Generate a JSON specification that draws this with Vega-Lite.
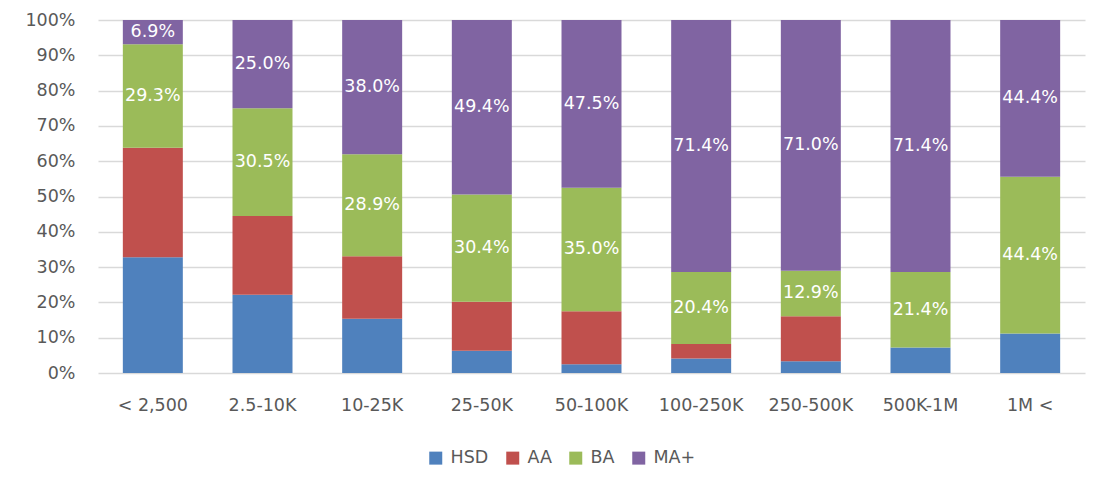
{
  "$schema": "https://vega.github.io/schema/vega-lite/v6.json",
  "width": 987,
  "height": 353,
  "autosize": {"type": "none"},
  "padding": {"left": 98, "top": 20, "right": 17, "bottom": 118},
  "background": "white",
  "config": {
    "view": {"stroke": null},
    "font": "DejaVu Sans",
    "axisY": {
      "title": null,
      "values": [0, 0.1, 0.2, 0.3, 0.4, 0.5, 0.6, 0.7, 0.8, 0.9, 1],
      "labelOverlap": false,
      "format": ".0%",
      "domain": false,
      "ticks": false,
      "labelPadding": 23,
      "labelFontSize": 17.5,
      "labelColor": "#595959",
      "gridColor": "#d9d9d9",
      "gridWidth": 1.5
    }
  },
  "data": {
    "values": [
      {"size": "< 2,500", "edu": "HSD", "level": 1, "share": 0.328},
      {"size": "< 2,500", "edu": "AA", "level": 2, "share": 0.310},
      {"size": "< 2,500", "edu": "BA", "level": 3, "share": 0.293},
      {"size": "< 2,500", "edu": "MA+", "level": 4, "share": 0.069},
      {"size": "2.5-10K", "edu": "HSD", "level": 1, "share": 0.222},
      {"size": "2.5-10K", "edu": "AA", "level": 2, "share": 0.223},
      {"size": "2.5-10K", "edu": "BA", "level": 3, "share": 0.305},
      {"size": "2.5-10K", "edu": "MA+", "level": 4, "share": 0.250},
      {"size": "10-25K", "edu": "HSD", "level": 1, "share": 0.154},
      {"size": "10-25K", "edu": "AA", "level": 2, "share": 0.177},
      {"size": "10-25K", "edu": "BA", "level": 3, "share": 0.289},
      {"size": "10-25K", "edu": "MA+", "level": 4, "share": 0.380},
      {"size": "25-50K", "edu": "HSD", "level": 1, "share": 0.063},
      {"size": "25-50K", "edu": "AA", "level": 2, "share": 0.139},
      {"size": "25-50K", "edu": "BA", "level": 3, "share": 0.304},
      {"size": "25-50K", "edu": "MA+", "level": 4, "share": 0.494},
      {"size": "50-100K", "edu": "HSD", "level": 1, "share": 0.025},
      {"size": "50-100K", "edu": "AA", "level": 2, "share": 0.150},
      {"size": "50-100K", "edu": "BA", "level": 3, "share": 0.350},
      {"size": "50-100K", "edu": "MA+", "level": 4, "share": 0.475},
      {"size": "100-250K", "edu": "HSD", "level": 1, "share": 0.041},
      {"size": "100-250K", "edu": "AA", "level": 2, "share": 0.041},
      {"size": "100-250K", "edu": "BA", "level": 3, "share": 0.204},
      {"size": "100-250K", "edu": "MA+", "level": 4, "share": 0.714},
      {"size": "250-500K", "edu": "HSD", "level": 1, "share": 0.033},
      {"size": "250-500K", "edu": "AA", "level": 2, "share": 0.128},
      {"size": "250-500K", "edu": "BA", "level": 3, "share": 0.129},
      {"size": "250-500K", "edu": "MA+", "level": 4, "share": 0.710},
      {"size": "500K-1M", "edu": "HSD", "level": 1, "share": 0.072},
      {"size": "500K-1M", "edu": "BA", "level": 3, "share": 0.214},
      {"size": "500K-1M", "edu": "MA+", "level": 4, "share": 0.714},
      {"size": "1M <", "edu": "HSD", "level": 1, "share": 0.112},
      {"size": "1M <", "edu": "BA", "level": 3, "share": 0.444},
      {"size": "1M <", "edu": "MA+", "level": 4, "share": 0.444}
    ]
  },
  "encoding": {
    "x": {
      "field": "size",
      "type": "nominal",
      "sort": ["< 2,500", "2.5-10K", "10-25K", "25-50K", "50-100K", "100-250K", "250-500K", "500K-1M", "1M <"],
      "scale": {"paddingInner": 0.453, "paddingOuter": 0.2265},
      "axis": {
        "title": null,
        "labelAngle": 0,
        "domain": false,
        "ticks": false,
        "grid": false,
        "labelPadding": 23,
        "labelFontSize": 17.5,
        "labelColor": "#595959"
      }
    },
    "color": {
      "field": "edu",
      "type": "nominal",
      "scale": {
        "domain": ["HSD", "AA", "BA", "MA+"],
        "range": ["#4f81bd", "#c0504d", "#9bbb59", "#8064a2"]
      },
      "legend": {
        "orient": "none",
        "direction": "horizontal",
        "legendX": 329,
        "legendY": 429,
        "title": null,
        "symbolType": "square",
        "symbolSize": 169,
        "symbolStrokeWidth": 0,
        "labelFontSize": 17.5,
        "labelColor": "#595959",
        "labelOffset": 6,
        "columnPadding": 15
      }
    },
    "order": {"field": "level", "type": "quantitative", "sort": "ascending"}
  },
  "layer": [
    {
      "mark": {"type": "bar"},
      "encoding": {
        "y": {
          "field": "share",
          "type": "quantitative",
          "stack": "zero",
          "scale": {"domain": [0, 1]}
        }
      }
    },
    {
      "mark": {"type": "text", "fontSize": 17.5, "baseline": "middle", "align": "center"},
      "encoding": {
        "y": {
          "field": "share",
          "type": "quantitative",
          "stack": "zero",
          "bandPosition": 0.5
        },
        "fill": {"value": "white"},
        "text": {
          "condition": {
            "test": "datum.edu === 'BA' || datum.edu === 'MA+'",
            "field": "share",
            "type": "quantitative",
            "format": ".1%"
          },
          "value": ""
        }
      }
    }
  ]
}
